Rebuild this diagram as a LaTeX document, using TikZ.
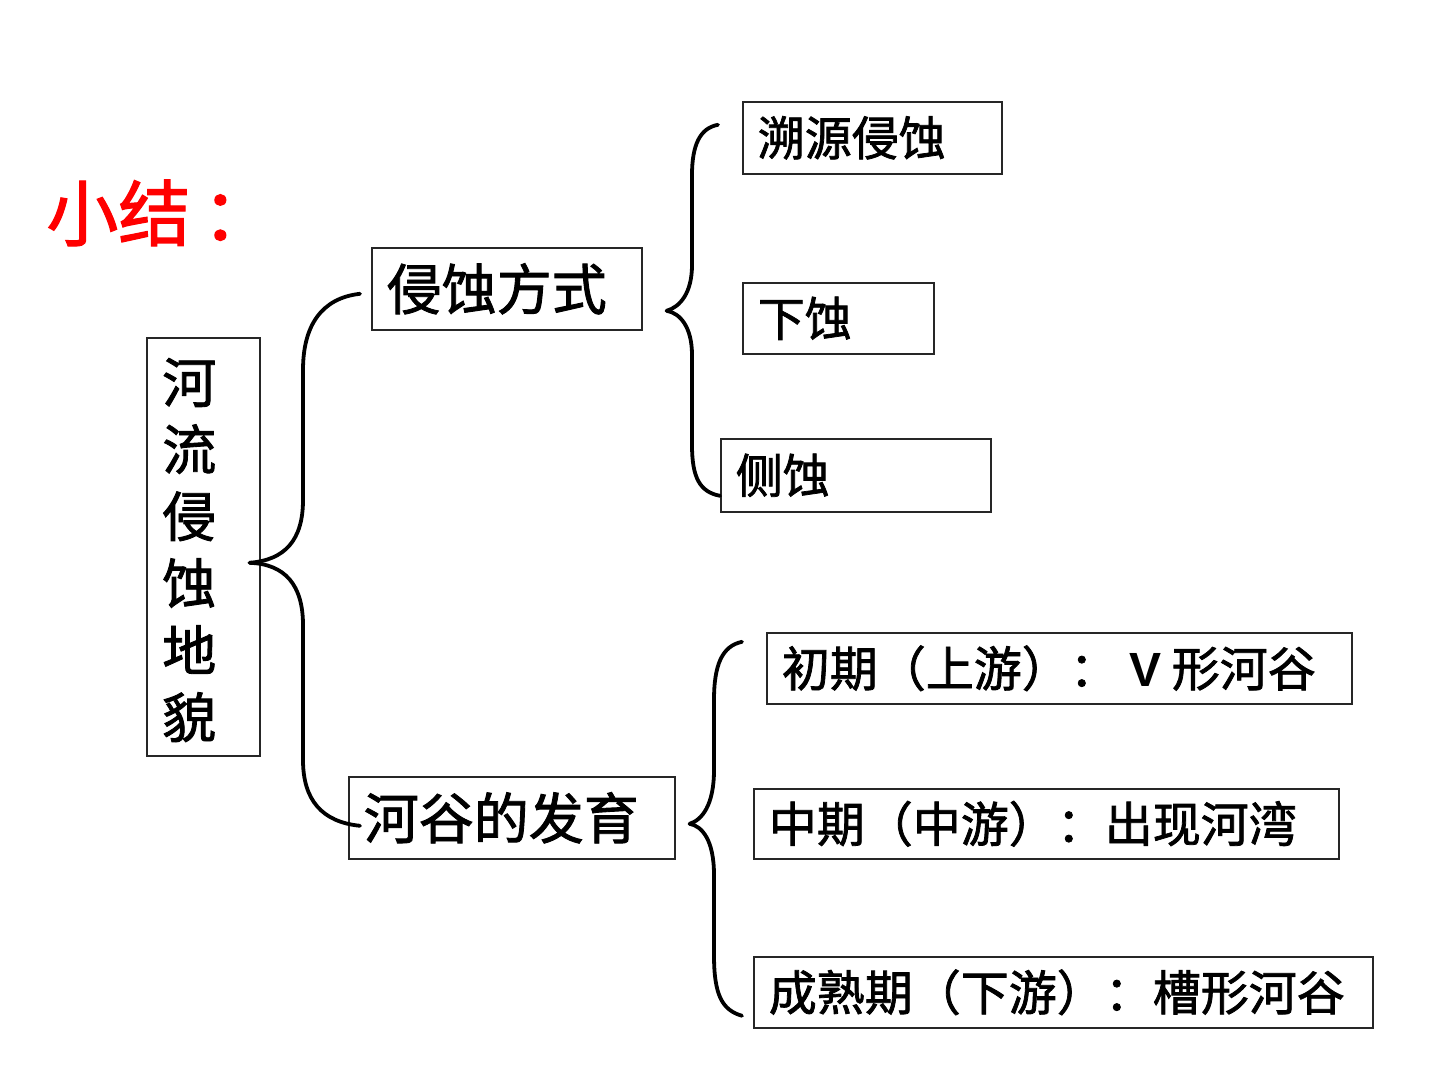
\documentclass[tikz,border=0pt]{standalone}
\usepackage{fontspec}
\newfontfamily\cjk{Noto Sans CJK SC}[FakeBold=1.6]
\newfontfamily\lsans{Liberation Sans}
\begin{document}
\begin{tikzpicture}[x=0.5pt,y=-0.5pt,
  bx/.style={draw=black!85, line width=0.8pt, anchor=north west, inner xsep=7.5pt, inner ysep=0pt, align=left},
  lvA/.style={font=\cjk\fontsize{27.5}{33}\selectfont},
  lvB/.style={font=\cjk\fontsize{23.5}{28}\selectfont},
  lvC/.style={font=\cjk\fontsize{24}{28}\selectfont},
  brace/.style={line width=1.9pt, line cap=round, line join=round}]
\useasboundingbox[fill=white] (0,0) rectangle (1440,1080);

\node[text=red, font=\cjk\fontsize{36}{42}\selectfont, anchor=west, inner sep=0pt] (title) at (46,213) {小结\kern6pt：};

\node[draw=black!85, line width=0.8pt, anchor=north west, minimum width=56.5pt, minimum height=209pt, inner sep=0pt, font=\cjk\fontsize{27}{33.5}\selectfont] (main) at (146,337) {\raisebox{-5pt}[\height][\depth]{\begin{tabular}{@{}c@{\hspace{14pt}}}河\\流\\侵\\蚀\\地\\貌\end{tabular}}};

\node[bx, lvA, text width=120pt, minimum height=41pt] (qs) at (371,247) {侵蚀方式};
\node[bx, lvA, text width=148pt, minimum height=41pt] (hg) at (348,776) {河谷的发育};

\node[bx, lvB, text width=114.5pt, minimum height=36pt] (sy) at (742,101) {溯源侵蚀};
\node[bx, lvB, text width=80.5pt, minimum height=35.5pt] (xs) at (742,282) {下蚀};
\node[bx, lvB, text width=120pt, minimum height=36.5pt] (cs) at (720,438) {侧蚀};

\node[bx, lvC, text width=277.5pt, minimum height=35.5pt] (cq) at (766,632) {初期（上游）：\hspace{6pt}{\lsans\bfseries V}\hspace{5pt}形河谷};
\node[bx, lvC, text width=277.5pt, minimum height=35pt] (zq) at (753,788) {中期（中游）：出现河湾};
\node[bx, lvC, text width=294.5pt, minimum height=35.5pt] (csq) at (753,956) {成熟期（下游）：槽形河谷};

% brace 1
\coordinate (b1t) at ([shift={(-11,5)}]qs.west);
\coordinate (b1p) at ([shift={(-11,16)}]main.east);
\coordinate (b1b) at ([shift={(12,8)}]hg.west);
\draw[brace] (b1t) .. controls (322,298) and (303,325) .. (303,370) -- (303,500) .. controls (303,540) and (285,560) .. (b1p);
\draw[brace] (b1p) .. controls (285,564) and (303,585) .. (303,625) -- (303,760) .. controls (303,800) and (322,822) .. (b1b);

% brace 2
\coordinate (b2t) at ([shift={(-24,-13)}]sy.west);
\coordinate (b2p) at ([shift={(24,22)}]qs.east);
\coordinate (b2b) at ([shift={(0,20.5)}]cs.west);
\draw[brace] (b2t) .. controls (700,128) and (692,145) .. (692,175) -- (692,265) .. controls (692,293) and (680,307) .. (b2p);
\draw[brace] (b2p) .. controls (680,313) and (692,327) .. (692,355) -- (692,445) .. controls (692,478) and (700,492) .. (b2b);

% brace 3
\coordinate (b3t) at ([shift={(-24,-26.5)}]cq.west);
\coordinate (b3p) at ([shift={(14,6)}]hg.east);
\coordinate (b3b) at ([shift={(-11,23.5)}]csq.west);
\draw[brace] (b3t) .. controls (722,646) and (714,665) .. (714,700) -- (714,770) .. controls (714,805) and (702,820) .. (b3p);
\draw[brace] (b3p) .. controls (702,826) and (714,840) .. (714,875) -- (714,955) .. controls (714,995) and (722,1010) .. (b3b);
\end{tikzpicture}
\end{document}
